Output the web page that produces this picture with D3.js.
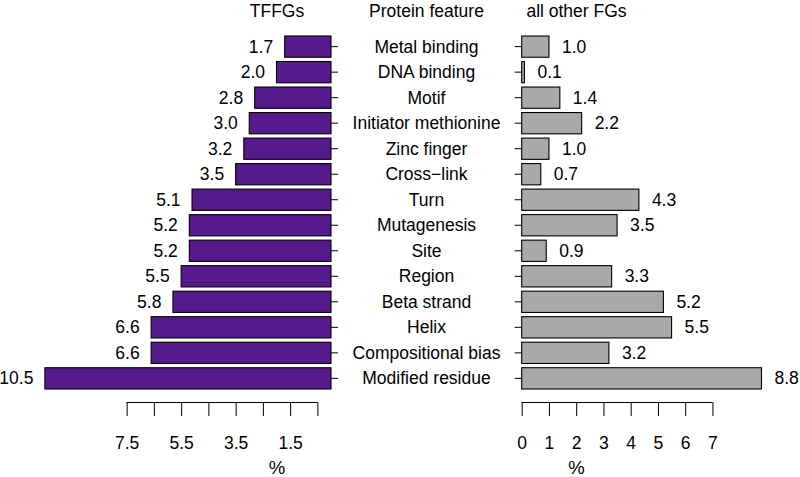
<!DOCTYPE html>
<html><head><meta charset="utf-8">
<script src="https://cdn.jsdelivr.net/npm/d3@7"></script>
<style>body{margin:0;background:#fff}svg{display:block}text{font-family:"Liberation Sans",Arial,sans-serif;fill:#000}</style>
</head><body><svg id="c" width="800" height="477"></svg>
<script>
const categories = ["Metal binding","DNA binding","Motif","Initiator methionine","Zinc finger","Cross\u2212link","Turn","Mutagenesis","Site","Region","Beta strand","Helix","Compositional bias","Modified residue"];
const tffgValues = [1.7,2.0,2.8,3.0,3.2,3.5,5.1,5.2,5.2,5.5,5.8,6.6,6.6,10.5];
const otherValues = [1.0,0.1,1.4,2.2,1.0,0.7,4.3,3.5,0.9,3.3,5.2,5.5,3.2,8.8];
const leftTicks = [7.5,6.5,5.5,4.5,3.5,2.5,1.5,0.5];
const leftTickLabels = ["7.5","5.5","3.5","1.5"];
const rightTicks = [0,1,2,3,4,5,6,7];
const titles = ["TFFGs","Protein feature","all other FGs"];
const axisTitle = "%";

const svg = d3.select("#c");
const FS = 17.5;
const unit = 27.25;
const y = d3.scaleBand().domain(categories).range([36,389]).paddingInner(1/6).paddingOuter(0);
const xL = d3.scaleLinear().domain([0,10]).range([331,331-10*unit]);
const xR = d3.scaleLinear().domain([0,10]).range([521.7,521.7+10*unit]);

// left bars
svg.append("g").selectAll("rect").data(categories).join("rect")
  .attr("x",(d,i)=>xL(tffgValues[i])).attr("y",d=>y(d))
  .attr("width",(d,i)=>xL(0)-xL(tffgValues[i])).attr("height",y.bandwidth())
  .attr("fill","#551A8B").attr("stroke","#000").attr("stroke-width",1.1);
svg.append("g").selectAll("text").data(categories).join("text")
  .attr("x",(d,i)=>xL(tffgValues[i])-11.5).attr("y",d=>y(d)+y.bandwidth()/2+6)
  .attr("text-anchor","end").attr("font-size",FS).text((d,i)=>tffgValues[i].toFixed(1));

// right bars
svg.append("g").selectAll("rect").data(categories).join("rect")
  .attr("x",xR(0)).attr("y",d=>y(d))
  .attr("width",(d,i)=>xR(otherValues[i])-xR(0)).attr("height",y.bandwidth())
  .attr("fill","#A9A9A9").attr("stroke","#000").attr("stroke-width",1.1);
svg.append("g").selectAll("text").data(categories).join("text")
  .attr("x",(d,i)=>xR(otherValues[i])+13).attr("y",d=>y(d)+y.bandwidth()/2+6)
  .attr("text-anchor","start").attr("font-size",FS).text((d,i)=>otherValues[i].toFixed(1));

// category ticks and labels
const gC = svg.append("g").attr("stroke","#000").attr("stroke-width",1);
categories.forEach(c=>{
  const cy = y(c)+y.bandwidth()/2;
  gC.append("line").attr("x1",xL(0)).attr("x2",xL(0)+7).attr("y1",cy).attr("y2",cy);
  gC.append("line").attr("x1",xR(0)-7).attr("x2",xR(0)).attr("y1",cy).attr("y2",cy);
});
svg.append("g").selectAll("text").data(categories).join("text")
  .attr("x",426.5).attr("y",d=>y(d)+y.bandwidth()/2+6)
  .attr("text-anchor","middle").attr("font-size",FS).text(d=>d);

// titles
[[277,titles[0]],[426.5,titles[1]],[576.5,titles[2]]].forEach(([x,t])=>{
  svg.append("text").attr("x",x).attr("y",17).attr("text-anchor","middle").attr("font-size",FS).text(t);
});

// bottom axes
function drawAxis(scale, ticks, labelFn){
  const g = svg.append("g").attr("transform","translate(0,402)");
  const ax = d3.axisBottom(scale).tickValues(ticks).tickSize(14).tickSizeOuter(0).tickPadding(21).tickFormat(labelFn);
  g.call(ax);
  g.select(".domain").attr("d",`M${d3.min(ticks.map(scale))},0.5H${d3.max(ticks.map(scale))}`).attr("stroke","#000");
  g.selectAll(".tick line").attr("stroke","#000");
  g.selectAll(".tick text").attr("font-size",FS).attr("font-family","Liberation Sans, Arial, sans-serif").attr("fill","#000");
}
drawAxis(xL, leftTicks, d=>leftTickLabels.includes(d.toFixed(1))?d.toFixed(1):"");
drawAxis(xR, rightTicks, d=>String(d));
svg.append("text").attr("x",277).attr("y",474).attr("text-anchor","middle").attr("font-size",18.5).text(axisTitle);
svg.append("text").attr("x",576.5).attr("y",474).attr("text-anchor","middle").attr("font-size",18.5).text(axisTitle);
</script></body></html>
